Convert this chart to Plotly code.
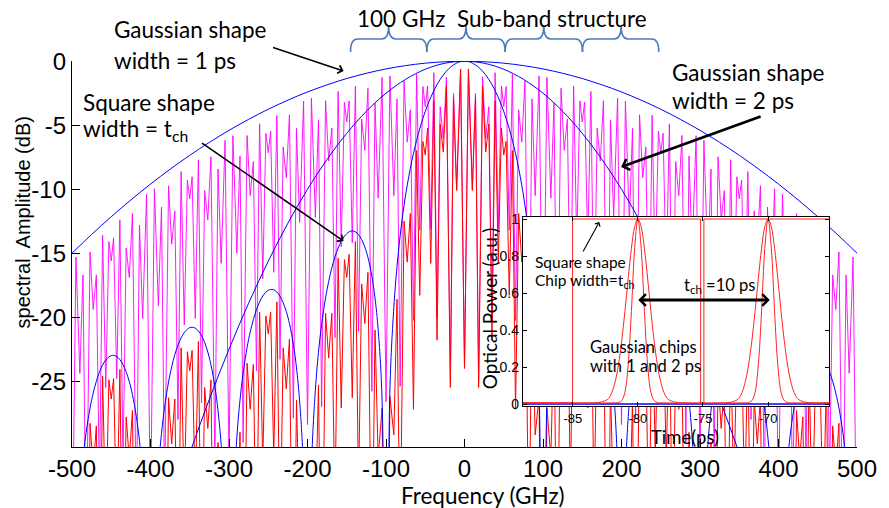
import plotly.graph_objects as go

# ---------------- main spectrum data (positive-frequency half; spectrum is symmetric) -------------
F_HALF = [0, 5, 10, 14, 18, 23, 27, 31, 35, 39, 43, 47, 50, 53, 57, 61, 65, 69, 73, 77, 82, 86, 90, 95, 100,
          105, 110, 114, 118, 123, 127, 131, 135, 139, 143, 147, 150, 153, 157, 161, 165, 169, 173, 177, 182, 186, 190, 195, 200,
          205, 210, 214, 218, 223, 227, 231, 235, 239, 243, 247, 250, 253, 257, 261, 265, 269, 273, 277, 282, 286, 290, 295, 300,
          305, 310, 314, 318, 323, 327, 331, 335, 339, 343, 347, 350, 353, 357, 361, 365, 369, 373, 377, 382, 386, 390, 395, 400,
          405, 410, 414, 418, 423, 427, 431, 435, 439, 443, 447, 450, 453, 457, 461, 465, 469, 473, 477, 482, 486, 490, 495, 500]

# magenta: Gaussian 1 ps chips
MAGENTA_HALF = [-24, -0.6, -10.0, -2.51, -25.0, -1.23, -6.04, -3.56, -20.07, -0.89, -13.1, -1.93, -3.55, -1.97, -13.2, -1.02, -20.25, -3.79, -6.32, -1.56, -25.4, -2.94, -10.5, -1.14, -26.6,
                -1.26, -10.7, -3.28, -25.8, -2.11, -6.97, -4.53, -21.1, -1.96, -14.2, -3.10, -4.75, -3.20, -14.5, -2.36, -21.6, -5.21, -7.8, -3.08, -27.0, -4.58, -12.2, -2.88, -28.4,
                -3.12, -12.6, -5.25, -27.9, -4.18, -9.1, -6.70, -23.3, -4.23, -16.5, -5.46, -7.15, -5.64, -17.0, -4.89, -24.2, -7.84, -10.5, -5.80, -29.8, -7.41, -15.0, -5.82, -31.4,
                -6.18, -15.8, -8.42, -31.1, -7.46, -12.4, -10.1, -26.7, -7.70, -20.1, -9.03, -10.75, -9.28, -20.6, -8.62, -28.0, -11.7, -14.3, -9.73, -33.8, -11.4, -19.1, -9.96, -35.6,
                -10.4, -20.1, -12.8, -35.5, -11.9, -16.9, -14.6, -31.4, -12.4, -24.8, -13.8, -15.6, -14.1, -25.5, -13.6, -33.0, -16.7, -19.4, -14.9, -38.9, -16.7, -24.4, -15.3, -41.0]

# red: square chips of width t_ch
RED_HALF = [-24, -0.63, -10.1, -2.79, -25.5, -1.97, -7.1, -4.92, -21.8, -3.09, -15.8, -5.22, -7.32, -6.27, -18.3, -6.98, -27.2, -11.9, -15.7, -12.5, -38.6, -18.6, -29.2, -26.2, -60,
            -27.1, -31.0, -21.0, -41.8, -16.5, -20.5, -17.4, -33.6, -14.1, -26.3, -15.1, -16.9, -15.5, -27.1, -15.4, -35.3, -19.7, -23.2, -19.7, -45.6, -25.3, -35.7, -32.5, -60,
            -32.9, -36.6, -26.5, -47.0, -21.7, -25.6, -22.4, -38.4, -18.8, -30.9, -19.6, -21.3, -19.9, -31.4, -19.6, -39.4, -23.7, -27.2, -23.6, -49.4, -29.0, -39.4, -36.1, -60,
            -36.3, -40.0, -29.8, -50.4, -24.9, -28.7, -25.5, -41.4, -21.9, -33.9, -22.6, -24.2, -22.7, -34.2, -22.4, -42.2, -26.4, -29.9, -26.3, -52.0, -31.6, -42.0, -38.6, -60,
            -38.8, -42.4, -32.2, -52.8, -27.3, -31.1, -27.8, -43.7, -24.1, -36.1, -24.8, -26.4, -24.9, -36.4, -24.6, -44.3, -28.5, -31.9, -28.3, -54.0, -33.6, -44.0, -40.6, -60]

# blue: envelope of the square-chip spectrum
SINC_HALF = [0, -0.03, -0.14, -0.29, -0.47, -0.77, -1.07, -1.42, -1.82, -2.29, -2.82, -3.42, -3.92, -4.47, -5.27, -6.18, -7.20, -8.37, -9.71, -11.26, -13.64, -16.05, -19.23, -25.61, -60,
             -26.48, -20.97, -18.50, -16.80, -15.33, -14.52, -13.94, -13.55, -13.33, -13.26, -13.33, -13.47, -13.68, -14.07, -14.61, -15.29, -16.15, -17.20, -18.49, -20.56, -22.75, -25.72, -31.85, -60,
             -32.29, -26.59, -23.97, -22.13, -20.50, -19.56, -18.87, -18.36, -18.04, -17.86, -17.84, -17.90, -18.05, -18.35, -18.81, -19.41, -20.19, -21.17, -22.38, -24.37, -26.49, -29.39, -35.45, -60,
             -35.74, -29.97, -27.30, -25.41, -23.72, -22.73, -21.99, -21.44, -21.08, -20.86, -20.79, -20.82, -20.94, -21.21, -21.62, -22.19, -22.93, -23.88, -25.06, -27.00, -29.10, -31.96, -37.98, -60,
             -38.20, -32.40, -29.70, -27.79, -26.06, -25.05, -24.28, -23.71, -23.32, -23.08, -22.99, -23.01, -23.11, -23.35, -23.75, -24.29, -25.02, -25.94, -27.10, -29.02, -31.10, -33.95, -39.95, -60]

# blue: Gaussian envelopes, 1 ps and 2 ps
G1_F = [0, 25, 50, 75, 100, 125, 150, 175, 200, 225, 250, 275, 300, 325, 350, 375, 400, 425, 450, 475, 500]
G1_DB = [0, -0.04, -0.15, -0.34, -0.6, -0.94, -1.35, -1.84, -2.4, -3.04, -3.75, -4.54, -5.4, -6.34, -7.35, -8.44, -9.6, -10.84, -12.15, -13.54, -15.0]
G2_F = [0, 25, 50, 75, 100, 125, 150, 175, 200, 225, 250, 275, 300, 325, 350, 375]
G2_DB = [0, -0.156, -0.625, -1.41, -2.5, -3.91, -5.63, -7.66, -10.0, -12.66, -15.63, -18.91, -22.5, -26.41, -30.63, -35.16]

X_TICKS = [-500, -400, -300, -200, -100, 0, 100, 200, 300, 400, 500]
X_LABELS = ["-500", "-400", "-300", "-200", "-100", "0", "100", "200", "300", "400", "500"]
Y_TICKS = [-25, -20, -15, -10, -5, 0]
Y_LABELS = ["-25", "-20", "-15", "-10", "-5", "0"]

# ---------------- inset (time domain) data ----------------
ZERO_T = [-88.8, -65.3]
ZERO_P = [0, 0]
SQ_T = [-88.8, -85.02, -85.02, -75.18, -75.18, -74.93, -74.93, -65.3]
SQ_P = [0.006, 0.006, 1.0, 1.0, 0.0, 0.0, 1.0, 1.0]
G1_T = [-88.8, -82.0, -81.5, -81.25, -81.0, -80.75, -80.5, -80.25, -80.0, -79.75, -79.5, -79.25, -79.0, -78.75, -78.5, -78.0,
        -72.0, -71.5, -71.25, -71.0, -70.75, -70.5, -70.25, -70.0, -69.75, -69.5, -69.25, -69.0, -68.75, -68.5, -68.0, -65.3]
G1_P = [0.006, 0.006, 0.008, 0.018, 0.063, 0.21, 0.5, 0.841, 1.0, 0.841, 0.5, 0.21, 0.063, 0.018, 0.008, 0.006,
        0.006, 0.008, 0.018, 0.063, 0.21, 0.5, 0.841, 1.0, 0.841, 0.5, 0.21, 0.063, 0.018, 0.008, 0.006, 0.006]
G2_T = [-88.8, -83.5, -83.0, -82.5, -82.25, -82.0, -81.75, -81.5, -81.25, -81.0, -80.75, -80.5, -80.25, -80.0,
        -79.75, -79.5, -79.25, -79.0, -78.75, -78.5, -78.25, -78.0, -77.75, -77.5, -77.0, -76.5,
        -73.5, -73.0, -72.5, -72.25, -72.0, -71.75, -71.5, -71.25, -71.0, -70.75, -70.5, -70.25, -70.0,
        -69.75, -69.5, -69.25, -69.0, -68.75, -68.5, -68.25, -68.0, -67.75, -67.5, -67.0, -66.5, -65.3]
G2_P = [0.006, 0.006, 0.008, 0.018, 0.03, 0.063, 0.12, 0.21, 0.339, 0.5, 0.677, 0.841, 0.958, 1.0,
        0.958, 0.841, 0.677, 0.5, 0.339, 0.21, 0.12, 0.063, 0.03, 0.018, 0.008, 0.006,
        0.006, 0.008, 0.018, 0.03, 0.063, 0.12, 0.21, 0.339, 0.5, 0.677, 0.841, 0.958, 1.0,
        0.958, 0.841, 0.677, 0.5, 0.339, 0.21, 0.12, 0.063, 0.03, 0.018, 0.008, 0.006, 0.006]
IN_X_TICKS = [-85, -80, -75, -70]
IN_X_LABELS = ["-85", "-80", "-75", "-70"]
IN_Y_TICKS = [0, 0.2, 0.4, 0.6, 0.8, 1.0]
IN_Y_LABELS = ["0", "0.2", "0.4", "0.6", "0.8", "1"]


def full_x(half):
    return [-v for v in reversed(half)] + half[1:]


def full_y(half):
    return list(reversed(half)) + half[1:]


CAL = "Lato"
ARIAL = "Liberation Sans"

fig = go.Figure()
fig.add_trace(go.Scatter(x=full_x(F_HALF), y=full_y(MAGENTA_HALF), mode="lines",
                         line=dict(color="#FF00FF", width=0.9), xaxis="x", yaxis="y"))
fig.add_trace(go.Scatter(x=full_x(F_HALF), y=full_y(RED_HALF), mode="lines",
                         line=dict(color="#FF0000", width=1), xaxis="x", yaxis="y"))
fig.add_trace(go.Scatter(x=full_x(G1_F), y=full_y(G1_DB), mode="lines",
                         line=dict(color="#0000FF", width=1, shape="spline"), xaxis="x", yaxis="y"))
fig.add_trace(go.Scatter(x=full_x(G2_F), y=full_y(G2_DB), mode="lines",
                         line=dict(color="#0000FF", width=1, shape="spline"), xaxis="x", yaxis="y"))
fig.add_trace(go.Scatter(x=full_x(F_HALF), y=full_y(SINC_HALF), mode="lines",
                         line=dict(color="#0000FF", width=1, shape="spline"), xaxis="x", yaxis="y"))

fig.add_trace(go.Scatter(x=ZERO_T, y=ZERO_P, mode="lines", line=dict(color="#0000FF", width=1.5),
                         xaxis="x2", yaxis="y2"))
fig.add_trace(go.Scatter(x=SQ_T, y=SQ_P, mode="lines", line=dict(color="#FF2020", width=1),
                         xaxis="x2", yaxis="y2"))
fig.add_trace(go.Scatter(x=G1_T, y=G1_P, mode="lines", line=dict(color="#FF2020", width=1, shape="spline"),
                         xaxis="x2", yaxis="y2"))
fig.add_trace(go.Scatter(x=G2_T, y=G2_P, mode="lines", line=dict(color="#FF2020", width=1, shape="spline"),
                         xaxis="x2", yaxis="y2"))

# ---------------- layout helpers (pixel -> paper) ----------------
L, T, W, H = 72, 61, 792, 386


def PX(xp):
    return (xp - L) / W


def PY(yp):
    return (T + H - yp) / H


def txt(s, xp, yp, size, family=CAL, xanchor="left", angle=0):
    return dict(text=s, x=PX(xp), y=PY(yp), xref="paper", yref="paper", showarrow=False,
                xanchor=xanchor, yanchor="middle", textangle=angle,
                font=dict(family=family, size=size, color="black"))


def arrow(head, tail, width, side="end", size=1.0):
    return dict(text="", x=PX(head[0]), y=PY(head[1]), xref="paper", yref="paper",
                ax=tail[0] - head[0], ay=tail[1] - head[1], showarrow=True,
                arrowhead=4, startarrowhead=4, arrowsize=size, startarrowsize=size,
                arrowwidth=width, arrowcolor="black", arrowside=side)


annotations = [
    txt("Gaussian shape", 112, 30, 22.5),
    txt("width = 1 ps", 112, 60, 22.5),
    txt("100 GHz  Sub-band structure", 358, 18, 22.5),
    txt("Square shape", 81, 102, 22.5),
    txt("width = t<sub>ch</sub>", 81, 130, 22.5),
    txt("Gaussian shape", 675, 72, 22.5),
    txt("width = 2 ps", 675, 100, 22.5),
    txt("Square shape", 537, 262, 15.5),
    txt("Chip width=t<sub>ch</sub>", 537, 281, 15.5),
    txt("t<sub>ch</sub> =10 ps", 687, 285, 16.5),
    txt("Gaussian chips", 593, 347, 16.5),
    txt("with 1 and 2 ps", 593, 366, 16.5),
    txt("Frequency (GHz)", 487, 495, 22.5, xanchor="center"),
    txt("spectral  Amplitude (dB)", 23, 222, 20, family=ARIAL, xanchor="center", angle=-90),
    txt("Optical Power (a.u.)", 493, 308, 19, xanchor="center", angle=-90),
    txt("Time(ps)", 690, 437, 18.5, xanchor="center"),
    arrow((346, 71), (274, 47), 1.6),
    arrow((346, 241), (203, 142), 1.6),
    arrow((626, 167), (767, 116), 2.8, size=0.8),
    arrow((604, 222), (587, 253), 1.1),
    arrow((776, 300), (643, 300), 2.8, side="end+start", size=0.8),
]


def brace(x0, xm, x1):
    yb, yh, yc = 52, 39, 26
    p = (f"M {PX(x0)},{PY(yb)} Q {PX(x0)},{PY(yh)} {PX(x0 + 7)},{PY(yh)} "
         f"L {PX(xm - 7)},{PY(yh)} Q {PX(xm)},{PY(yh)} {PX(xm)},{PY(yc)} "
         f"Q {PX(xm)},{PY(yh)} {PX(xm + 7)},{PY(yh)} L {PX(x1 - 7)},{PY(yh)} "
         f"Q {PX(x1)},{PY(yh)} {PX(x1)},{PY(yb)}")
    return dict(type="path", path=p, xref="paper", yref="paper",
                line=dict(color="#4A7EBB", width=1.6))


shapes = [brace(353, 391.5, 430), brace(430, 469.5, 509), brace(509, 548, 587), brace(587, 626, 664)]

axis_common = dict(showgrid=False, zeroline=False, showline=True, linecolor="black",
                   ticks="inside", tickcolor="black")

fig.update_layout(
    width=889, height=508,
    margin=dict(l=L, r=889 - L - W, t=T, b=508 - T - H),
    paper_bgcolor="white", plot_bgcolor="white", showlegend=False,
    xaxis=dict(range=[-500, 500], tickvals=X_TICKS, ticktext=X_LABELS, ticklen=8, tickwidth=1.3,
               linewidth=1.3, tickfont=dict(family=ARIAL, size=24, color="black"), **axis_common),
    yaxis=dict(range=[-30.15, 0.02], tickvals=Y_TICKS, ticktext=Y_LABELS, ticklen=8, tickwidth=1.3,
               linewidth=1.3, tickfont=dict(family=ARIAL, size=24, color="black"), **axis_common),
    xaxis2=dict(domain=[PX(527), PX(836)], anchor="y2", range=[-88.83, -65.3], mirror="allticks",
                tickvals=IN_X_TICKS, ticktext=IN_X_LABELS, ticklen=4, tickwidth=1.2, linewidth=1.4,
                tickfont=dict(family=ARIAL, size=13, color="black"), **axis_common),
    yaxis2=dict(domain=[PY(406), PY(217)], anchor="x2", range=[-0.0108, 1.0108], mirror="allticks",
                tickvals=IN_Y_TICKS, ticktext=IN_Y_LABELS, ticklen=4, tickwidth=1.2, linewidth=1.4,
                tickfont=dict(family=ARIAL, size=14, color="black"), **axis_common),
    annotations=annotations,
    shapes=shapes,
)

fig.write_html("out.html")
